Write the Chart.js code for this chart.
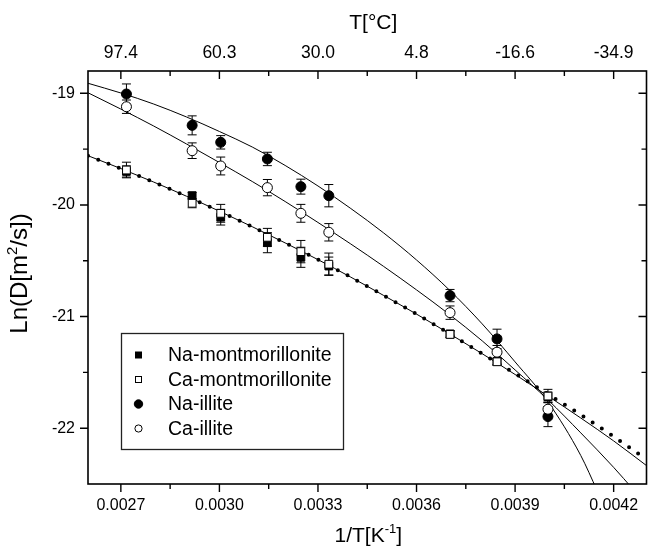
<!DOCTYPE html>
<html><head><meta charset="utf-8">
<script src="https://cdn.jsdelivr.net/npm/chart.js@4/dist/chart.umd.min.js"></script>
<style>html,body{margin:0;padding:0;background:#fff}canvas{display:block}</style>
</head><body>
<canvas id="c" width="653" height="551" style="width:653px;height:551px"></canvas>
<script>
// ---------- data ----------
const seriesNames = ['Na-montmorillonite', 'Ca-montmorillonite', 'Na-illite', 'Ca-illite'];
const invT = [0.002717, 0.002917, 0.003004, 0.003146, 0.003248, 0.003333, 0.003702, 0.003845, 0.004000];
const naMont = [-19.70, -19.917, -20.110, -20.338, -20.469, -20.547, -21.155, -21.403, -21.717];
const caMont = [-19.687, -19.985, -20.075, -20.290, -20.418, -20.531, -21.160, -21.405, -21.712];
const naIllite = [-19.006, -19.287, -19.439, -19.588, -19.836, -19.917, -20.812, -21.200, -21.896];
const caIllite = [-19.120, -19.514, -19.651, -19.845, -20.075, -20.245, -20.965, -21.319, -21.830];
const naMontErr = [0.05, 0.03, 0.07, 0.09, 0.09, 0.08, 0.03, 0.03, 0.04];
const caMontErr = [0.07, 0.04, 0.08, 0.08, 0.10, 0.10, 0.03, 0.03, 0.06];
const naIlliteErr = [0.09, 0.085, 0.06, 0.06, 0.067, 0.10, 0.055, 0.087, 0.09];
const caIlliteErr = [0.06, 0.07, 0.08, 0.073, 0.08, 0.078, 0.06, 0.06, 0.06];

// fitted curves
const fitXMont = [0.0026, 0.0027, 0.0028, 0.0029, 0.0030, 0.0031, 0.0032, 0.0033, 0.0034, 0.0035, 0.0036, 0.0037, 0.0038, 0.0039, 0.0040, 0.0041, 0.0042, 0.0043];
const fitMontSolid = [-19.559, -19.674, -19.795, -19.922, -20.056, -20.195, -20.340, -20.490, -20.647, -20.811, -20.978, -21.153, -21.333, -21.519, -21.712, -21.909, -22.114, -22.335];
const fitMontDotted = [-19.559, -19.674, -19.795, -19.922, -20.056, -20.195, -20.340, -20.490, -20.647, -20.811, -20.978, -21.153, -21.333, -21.510, -21.695, -21.880, -22.075, -22.280];
const fitXNaIllite = [0.0026, 0.0027, 0.0028, 0.0029, 0.0030, 0.0031, 0.0032, 0.0033, 0.0034, 0.0035, 0.0036, 0.0037, 0.0038, 0.0039, 0.0040, 0.0041, 0.00415];
const fitNaIllite = [-18.910, -18.997, -19.096, -19.212, -19.342, -19.481, -19.646, -19.830, -20.032, -20.251, -20.493, -20.762, -21.066, -21.406, -21.764, -22.245, -22.560];
const fitXCaIllite = [0.0026, 0.0027, 0.0028, 0.0029, 0.0030, 0.0031, 0.0032, 0.0033, 0.0034, 0.0035, 0.0036, 0.0037, 0.0038, 0.0039, 0.0040, 0.0041, 0.0042, 0.00426];
const fitCaIllite = [-18.995, -19.141, -19.293, -19.454, -19.620, -19.790, -19.969, -20.157, -20.350, -20.551, -20.761, -20.981, -21.218, -21.478, -21.746, -22.042, -22.351, -22.550];

// axes
const xTickValues = [0.0027, 0.0030, 0.0033, 0.0036, 0.0039, 0.0042];
const xTickLabels = ['0.0027', '0.0030', '0.0033', '0.0036', '0.0039', '0.0042'];
const topTickLabels = ['97.4', '60.3', '30.0', '4.8', '-16.6', '-34.9'];
const xMinorTicks = [0.00285, 0.00315, 0.00345, 0.00375, 0.00405];
const yTickValues = [-22, -21, -20, -19];
const yTickLabels = ['-22', '-21', '-20', '-19'];
const yMinorTicks = [-21.5, -20.5, -19.5];
const xTitle = [{t: '1/T[K'}, {t: '-1', sup: true}, {t: ']'}];
const topTitle = [{t: 'T[°C]'}];
const yTitle = [{t: 'Ln(D[m'}, {t: '2', sup: true}, {t: '/s])'}];

// ---------- drawing ----------
const FONT = '"Liberation Sans", Arial, Helvetica, sans-serif';
const pts = (xs, ys) => xs.map((x, i) => ({x: x, y: ys[i]}));

function drawRich(ctx, parts, size, x, y) {
  const main = size + 'px ' + FONT, sub = Math.round(size * 0.62) + 'px ' + FONT;
  let w = 0;
  parts.forEach(p => { ctx.font = p.sup ? sub : main; p.w = ctx.measureText(p.t).width; w += p.w; });
  let cx = x - w / 2;
  ctx.textAlign = 'left'; ctx.textBaseline = 'alphabetic'; ctx.fillStyle = '#000';
  parts.forEach(p => { ctx.font = p.sup ? sub : main; ctx.fillText(p.t, cx, p.sup ? y - size * 0.42 : y); cx += p.w; });
}

const errorBars = {
  id: 'errorBars',
  beforeDatasetsDraw(chart) {
    const ctx = chart.ctx, xs = chart.scales.x, ys = chart.scales.y, a = chart.chartArea;
    ctx.save();
    ctx.beginPath(); ctx.rect(a.left, a.top, a.right - a.left, a.bottom - a.top); ctx.clip();
    ctx.strokeStyle = '#000'; ctx.lineWidth = 1;
    chart.data.datasets.forEach(ds => {
      if (!ds.errorBars) return;
      ds.data.forEach((p, i) => {
        const e = ds.errorBars[i];
        const px = xs.getPixelForValue(p.x);
        const y1 = ys.getPixelForValue(p.y + e), y2 = ys.getPixelForValue(p.y - e);
        ctx.beginPath();
        ctx.moveTo(px, y1); ctx.lineTo(px, y2);
        ctx.moveTo(px - 4.5, y1); ctx.lineTo(px + 4.5, y1);
        ctx.moveTo(px - 4.5, y2); ctx.lineTo(px + 4.5, y2);
        ctx.stroke();
      });
    });
    ctx.restore();
  }
};

const frame = {
  id: 'frame',
  afterDraw(chart) {
    const ctx = chart.ctx, xs = chart.scales.x, ys = chart.scales.y, a = chart.chartArea;
    ctx.save();
    ctx.strokeStyle = '#000'; ctx.lineWidth = 1.6;
    ctx.strokeRect(a.left, a.top, a.right - a.left, a.bottom - a.top);
    ctx.lineWidth = 1.4;
    ctx.beginPath();
    const major = 8, minor = 5;
    xTickValues.forEach(v => { const p = xs.getPixelForValue(v);
      ctx.moveTo(p, a.bottom); ctx.lineTo(p, a.bottom + major);
      ctx.moveTo(p, a.top); ctx.lineTo(p, a.top + major); });
    xMinorTicks.forEach(v => { const p = xs.getPixelForValue(v);
      ctx.moveTo(p, a.bottom); ctx.lineTo(p, a.bottom + minor);
      ctx.moveTo(p, a.top); ctx.lineTo(p, a.top + minor); });
    yTickValues.forEach(v => { const p = ys.getPixelForValue(v);
      ctx.moveTo(a.left, p); ctx.lineTo(a.left - major, p);
      ctx.moveTo(a.right, p); ctx.lineTo(a.right - major, p); });
    yMinorTicks.forEach(v => { const p = ys.getPixelForValue(v);
      ctx.moveTo(a.left, p); ctx.lineTo(a.left - minor, p);
      ctx.moveTo(a.right, p); ctx.lineTo(a.right - minor, p); });
    ctx.stroke();

    // titles
    drawRich(ctx, topTitle, 21, (a.left + a.right) / 2 + 6, 28.5);
    drawRich(ctx, xTitle, 21, (a.left + a.right) / 2 + 1, 542);
    ctx.save();
    ctx.translate(27, (a.top + a.bottom) / 2 - 4);
    ctx.rotate(-Math.PI / 2);
    drawRich(ctx, yTitle, 24, 0, 0);
    ctx.restore();

    // legend
    const lx = 121.5, ly = 333.5, lw = 222, lh = 116;
    ctx.fillStyle = '#fff';
    ctx.fillRect(lx, ly, lw, lh);
    ctx.strokeStyle = '#222'; ctx.lineWidth = 1.3;
    ctx.strokeRect(lx, ly, lw, lh);
    const rowsY = [355, 379.5, 404, 428.5];
    ctx.font = '19.5px ' + FONT; ctx.textAlign = 'left'; ctx.textBaseline = 'middle';
    seriesNames.forEach((name, i) => {
      const cy = rowsY[i], cx = 138.5;
      ctx.lineWidth = 1; ctx.strokeStyle = '#000';
      if (i < 2) {
        ctx.fillStyle = i === 0 ? '#000' : '#fff';
        ctx.fillRect(cx - 3, cy - 3, 6, 6); ctx.strokeRect(cx - 3, cy - 3, 6, 6);
      } else {
        ctx.beginPath(); ctx.arc(cx, cy, i === 2 ? 4.2 : 3.6, 0, Math.PI * 2);
        ctx.fillStyle = i === 2 ? '#000' : '#fff'; ctx.fill(); ctx.stroke();
      }
      ctx.fillStyle = '#000';
      ctx.fillText(name, 168, cy + 1);
    });
    ctx.restore();
  }
};

const lineDs = (label, xs, ys, extra) => Object.assign({
  label: label, data: pts(xs, ys), showLine: true, pointRadius: 0, pointHoverRadius: 0,
  borderColor: '#000', borderWidth: 1, fill: false, cubicInterpolationMode: 'monotone', order: 10
}, extra || {});

const markDs = (label, ys, errs, style, filled, r, ord) => ({
  label: label, data: pts(invT, ys), showLine: false, errorBars: errs,
  pointStyle: style, pointRadius: r, pointHoverRadius: r,
  pointBackgroundColor: filled ? '#000' : '#fff', pointBorderColor: '#000', pointBorderWidth: 1, order: ord
});

const tickFont = s => ({family: FONT, size: s});

new Chart(document.getElementById('c'), {
  type: 'scatter',
  data: {
    datasets: [
      markDs(seriesNames[0], naMont, naMontErr, 'rect', true, 5.5, 3),
      markDs(seriesNames[1], caMont, caMontErr, 'rect', false, 5.5, 2),
      markDs(seriesNames[2], naIllite, naIlliteErr, 'circle', true, 5, 1),
      markDs(seriesNames[3], caIllite, caIlliteErr, 'circle', false, 5, 0),
      lineDs('fit Na-montmorillonite', fitXMont, fitMontSolid),
      lineDs('fit Ca-montmorillonite', fitXMont, fitMontDotted, {borderDash: [0, 11], borderCapStyle: 'round', borderWidth: 4, order: 9}),
      lineDs('fit Na-illite', fitXNaIllite, fitNaIllite),
      lineDs('fit Ca-illite', fitXCaIllite, fitCaIllite)
    ]
  },
  options: {
    responsive: false, animation: false, devicePixelRatio: 1,
    layout: {padding: {left: 0, right: 5, top: 0, bottom: 0}},
    plugins: {legend: {display: false}, tooltip: {enabled: false}},
    scales: {
      x: {
        type: 'linear', position: 'bottom', min: 0.0026, max: 0.0043,
        afterBuildTicks: s => { s.ticks = xTickValues.map(v => ({value: v})); },
        afterFit: s => { s.height = 67; },
        ticks: {callback: (v, i) => xTickLabels[i], font: tickFont(16), color: '#000', padding: 12, maxRotation: 0, autoSkip: false},
        grid: {display: false, drawTicks: false}, border: {display: false}
      },
      x2: {
        type: 'linear', position: 'top', min: 0.0026, max: 0.0043,
        afterBuildTicks: s => { s.ticks = xTickValues.map(v => ({value: v})); },
        afterFit: s => { s.height = 71; },
        ticks: {callback: (v, i) => topTickLabels[i], font: tickFont(17.5), color: '#000', padding: 7.5, maxRotation: 0, autoSkip: false},
        grid: {display: false, drawTicks: false}, border: {display: false}
      },
      y: {
        type: 'linear', position: 'left', min: -22.5, max: -18.8,
        afterBuildTicks: s => { s.ticks = yTickValues.map(v => ({value: v})); },
        afterFit: s => { s.width = 88; },
        ticks: {callback: (v, i) => yTickLabels[i], font: tickFont(16), color: '#000', padding: 13, autoSkip: false},
        grid: {display: false, drawTicks: false}, border: {display: false}
      }
    }
  },
  plugins: [errorBars, frame]
});
</script></body></html>
